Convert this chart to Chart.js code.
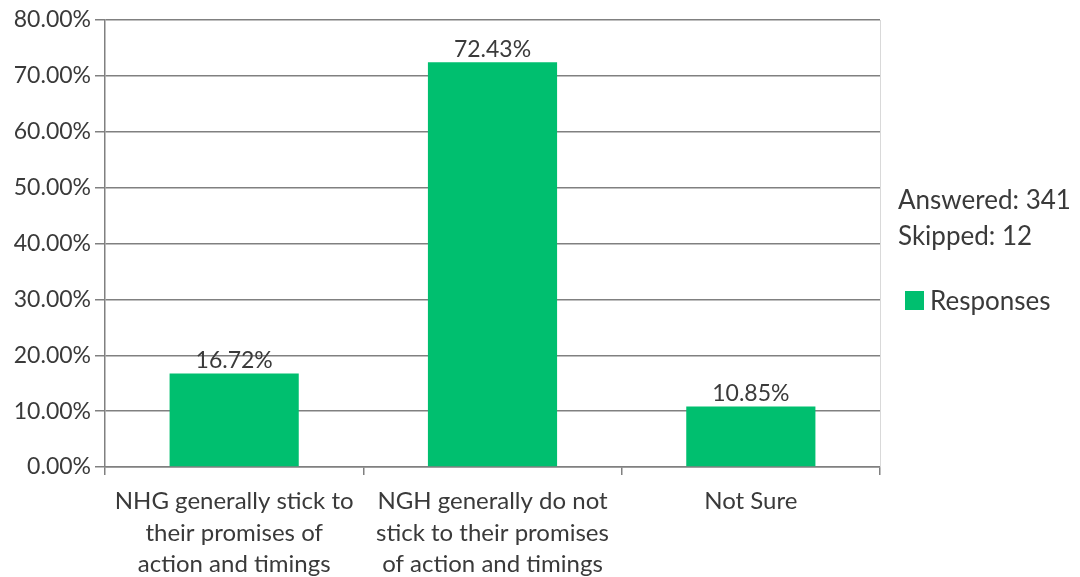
<!DOCTYPE html>
<html>
<head>
<meta charset="utf-8">
<script src="https://cdn.jsdelivr.net/npm/chart.js@4/dist/chart.umd.min.js"></script>
<style>
  html, body { margin: 0; padding: 0; background: #fff; }
  #wrap { position: relative; width: 1080px; height: 577px; }
</style>
</head>
<body>
<div id="wrap"><canvas id="c" width="1080" height="577"></canvas></div>
<script>
// 数据
const categories = [
  ['NHG generally stick to', 'their promises of', 'action and timings'],
  ['NGH generally do not', 'stick to their promises', 'of action and timings'],
  'Not Sure'
];
const responses = [16.72, 72.43, 10.85];
const answered = 341;
const skipped = 12;

const FONT = 'Lato, "Open Sans", sans-serif';
const TEXT = '#3a3a3a';
const GREEN = '#00BF6F';

// 柱顶数值 + 右侧说明
const extras = {
  id: 'extras',
  afterDatasetsDraw(chart) {
    const ctx = chart.ctx;
    const meta = chart.getDatasetMeta(0);
    ctx.save();
    ctx.font = '23px ' + FONT;
    ctx.fillStyle = TEXT;
    ctx.textAlign = 'center';
    ctx.textBaseline = 'bottom';
    meta.data.forEach((bar, i) => {
      ctx.fillText(responses[i].toFixed(2) + '%', bar.x, bar.y - 1);
    });

    const area = chart.chartArea;
    // 右边框
    ctx.strokeStyle = '#d9d9d9';
    ctx.lineWidth = 1;
    ctx.beginPath();
    ctx.moveTo(area.right + 0.5, area.top);
    ctx.lineTo(area.right + 0.5, area.bottom);
    ctx.stroke();

    ctx.textAlign = 'left';
    ctx.textBaseline = 'middle';
    ctx.font = '26px ' + FONT;
    const lx = area.right + 18;
    ctx.fillText('Answered: ' + answered, lx, 201);
    ctx.fillText('Skipped: ' + skipped, lx, 237);
    ctx.fillStyle = GREEN;
    ctx.fillRect(905, 291, 19, 19);
    ctx.fillStyle = TEXT;
    ctx.fillText('Responses', 930, 302);
    ctx.restore();
  }
};

new Chart(document.getElementById('c'), {
  type: 'bar',
  data: {
    labels: categories,
    datasets: [{
      label: 'Responses',
      data: responses,
      backgroundColor: GREEN,
      borderWidth: 0,
      barPercentage: 0.5,
      categoryPercentage: 1.0
    }]
  },
  options: {
    responsive: false,
    animation: false,
    layout: { padding: { top: 20, right: 200, left: 0, bottom: 0 } },
    plugins: {
      legend: { display: false },
      tooltip: { enabled: false }
    },
    scales: {
      y: {
        min: 0,
        max: 80,
        ticks: {
          stepSize: 10,
          color: TEXT,
          padding: 4,
          font: { family: FONT, size: 23 },
          callback: v => v.toFixed(2) + '%'
        },
        grid: { color: '#808080', lineWidth: 1.5, tickLength: 10 },
        border: { color: '#808080', width: 1.5 },
        afterFit(scale) { scale.width = 105; }
      },
      x: {
        ticks: {
          color: TEXT,
          padding: 11,
          font: { family: FONT, size: 24, lineHeight: 1.3 }
        },
        grid: { drawOnChartArea: false, color: '#808080', lineWidth: 1.5, tickLength: 8, offset: true },
        border: { color: '#808080', width: 1.5 },
        afterFit(scale) { scale.height = 110; }
      }
    }
  },
  plugins: [extras]
});
</script>
</body>
</html>
